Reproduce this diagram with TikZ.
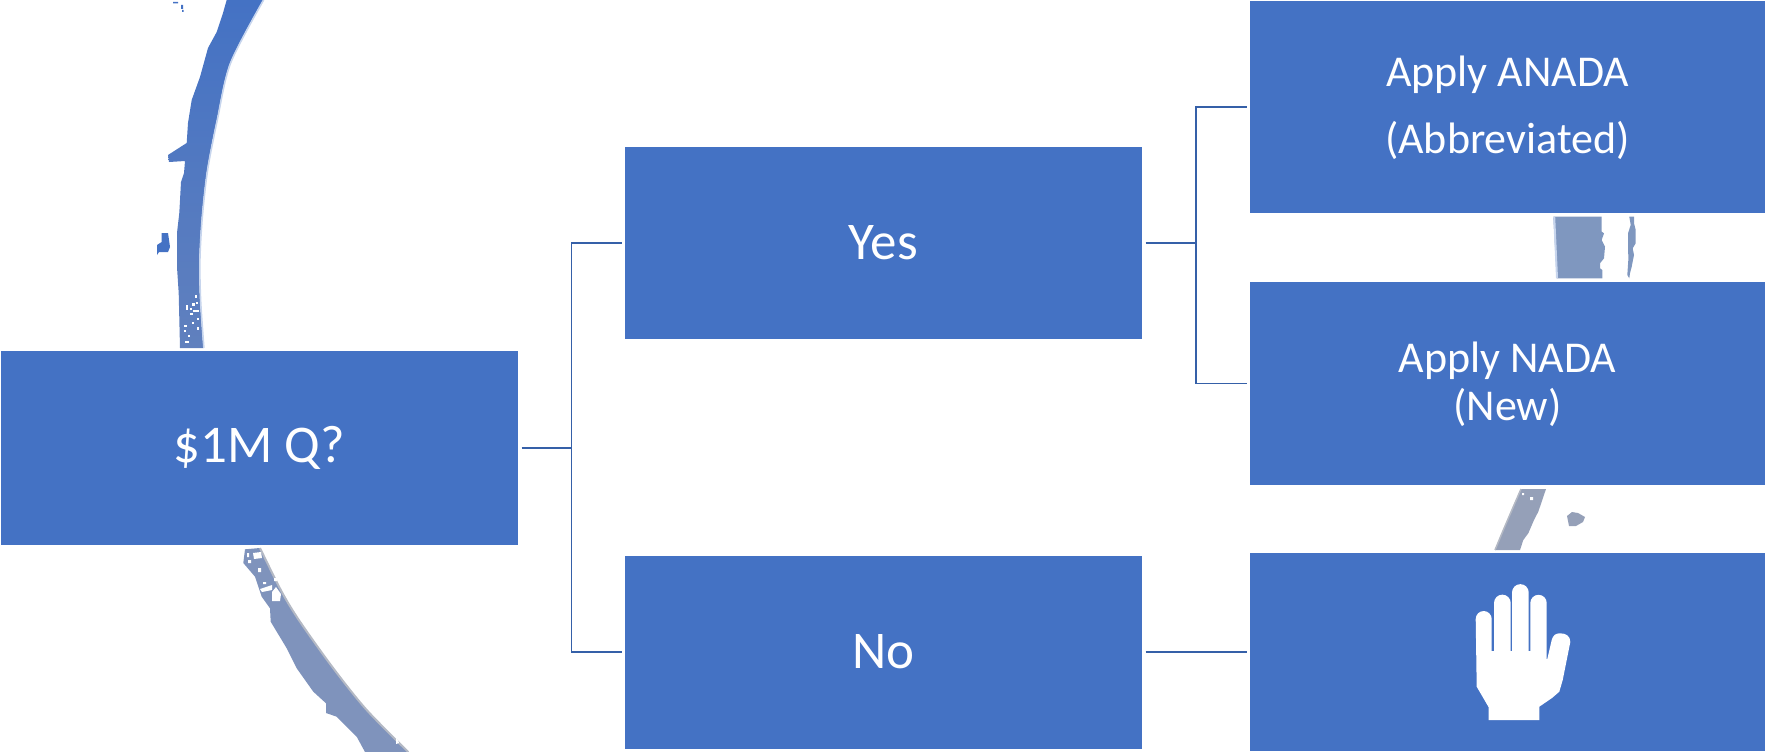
\documentclass[tikz,border=0pt]{standalone}
\usepackage{fontspec}
\setmainfont{Carlito}
\definecolor{boxblue}{HTML}{4472C4}
\definecolor{linkblue}{HTML}{3560A8}
\definecolor{rimgray}{HTML}{B4B9C4}
\definecolor{bandgray}{HTML}{7F93BC}
\definecolor{bandmid}{HTML}{7F97BF}
\definecolor{bandslate}{HTML}{95A0B8}
\definecolor{arcfoot}{HTML}{6080BE}
\tikzset{
  box/.style={rectangle,fill=boxblue,draw=none,inner sep=0pt,outer sep=3.5pt,text=white,align=center},
  link/.style={linkblue,line width=2.2pt},
  thinlink/.style={linkblue,line width=1.7pt},
  bigtext/.style={font=\fontsize{53}{60}\selectfont},
  smalltext/.style={font=\fontsize{44}{48}\selectfont},
  handfill/.style={fill=white,draw=none}
}
\begin{document}
\begin{tikzpicture}[x=1pt,y=-1pt]
\useasboundingbox (0,0) rectangle (1765,752);
% upper arc piece
\shade[top color=boxblue,middle color=boxblue,bottom color=arcfoot]
 plot[smooth] coordinates {(263,0)(230,63)(216.7,120)(207,170)(201.7,217)(199.3,260)(200,300)(203.3,348)}
 --(180,348)--(178.7,293)--(177,267)--(177,233)--(179.3,213)--(181,182)--(184,173)--(185,161)
 --(169,162)--(168,155)--(186.7,143)--(188,123)--(191.7,100)--(200,77)--(208,48)--(216.7,32)--(223,13)--(226.7,0)--cycle;
\draw[boxblue!30!white,line width=1.6pt] plot[smooth] coordinates {(263.6,0)(230.6,63)(217.3,120)(207.6,170)(202.3,217)(199.9,260)(200.6,300)(203.9,348)};
\fill[boxblue] (161.7,233)--(168,233)--(170,247)--(168,252)--(159,252)--(157,255)--(157,245)--(161.7,242)--cycle;
\fill[boxblue] (173,2) rectangle (178,3.5) (181,5) rectangle (183,9) (182,10) rectangle (183.5,12);
\foreach \sx/\sy/\sw/\sh in {195/295/2/3,192/303/3/3,190/308/2/2,186/305/2/5,193/310/6/2,190/313/3/2,197/318/2/2,184/325/3/2,184/330/2/2,188/335/2/2,197/327/2/3,185/341/4/2,192/322/2/2,196/302/2/2}
  \fill[white] (\sx,\sy) rectangle +(\sw,\sh);
% lower arc
\fill[bandgray] plot[smooth] coordinates {(260,548)(281.7,591.7)(300,621.7)(333.3,668.3)(366.7,710)(408.3,752)}--(365,752)
 --(356.7,736.7)--(336.7,716.7)--(326,713)--(326,703.3)--(313.3,691.7)--(296.7,668.3)--(286.7,648.3)
 --(270.7,621.7)--(270,608.3)--(261.7,596.7)--(255,576.7)--(243.3,563)--(245,549.3)--cycle;
\draw[rimgray,line width=2pt] plot[smooth] coordinates {(260,548)(281.7,591.7)(300,621.7)(333.3,668.3)(366.7,710)(408.3,752)};
\fill[white] (253,553)--(261,552)--(262,558)--(254,559)--cycle
 (272,592)--(276,587)--(281,594)--(280,601)--(272,601)--cycle
 (258,568) rectangle (261,572) (247,553) rectangle (249,557) (248,560) rectangle (251,563)
 (260,589)--(272,585)--(272,590)--(262,592)--cycle
 (263,582) rectangle (266,584) (274,578) rectangle (277,581);
\fill[white] (396,738)--(398,740)--(399,743)--(396,744)--cycle;
% fragments between the right-hand boxes
\fill[bandmid] (1553.3,216.7)--(1601.7,216.7)--(1601.7,231.7)--(1604,233.3)--(1601.7,240)--(1605,246.7)--(1604,258.3)--(1600,263.3)--(1600,268.3)--(1602.3,270)--(1602.3,278.3)--(1556.7,278.3)--cycle;
\draw[boxblue!30!white,line width=2pt] (1554.2,217)--(1557,278);
\fill[bandmid] (1629.3,216.7)--(1634,216.7)--(1634,223.3)--(1635.7,230)--(1635.7,243.3)--(1632.7,248.3)--(1634,255)--(1631.7,266.7)--(1630,273.3)--(1629.3,278.3)--(1627.3,275)--(1628.3,260)--(1628,233.3)--(1630.7,225)--cycle;
\fill[bandslate] (1521,489)--(1546,489)--(1541.7,501.7)--(1538.3,511.7)--(1534,520)--(1528.3,533.3)--(1523.3,540)--(1520,550)--(1495,550)--(1503.3,530)--(1513.3,506.7)--cycle;
\draw[rimgray,line width=1.5pt] (1521,489)--(1513.3,506.7)--(1503.3,530)--(1495,550);
\fill[white] (1522,493) rectangle (1524,495) (1530,497) rectangle (1533,500);
\fill[bandslate] (1567,516)--(1572,512)--(1578,513)--(1585,517)--(1583,522)--(1576,526)--(1569,526)--cycle;
% boxes
\node[box,minimum width=517pt,minimum height=194pt,bigtext] (q) at (259.5,448) {\$1M Q?};
\node[box,minimum width=517pt,minimum height=192pt,bigtext] (yes) at (883.5,243) {Yes};
\node[box,minimum width=517pt,minimum height=193pt,bigtext] (no) at (883.5,652) {No};
\node[box,minimum width=515pt,minimum height=212pt,smalltext] (anada) at (1507.5,107) {\rule{0pt}{33pt}Apply ANADA\\[19pt](Abbreviated)};
\node[box,minimum width=515pt,minimum height=203pt,smalltext] (nada) at (1507.5,383.5) {\rule{0pt}{33pt}Apply NADA\\(New)};
\node[box,minimum width=515pt,minimum height=198pt] (stop) at (1507.5,652) {};
% junctions
\coordinate (j1) at (571.5,448);
\coordinate (j2) at (1196,243);
% connectors
\draw[link] (q.east) -- (j1);
\draw[thinlink] (yes.west) -| (j1) |- (no.west);
\draw[link] (yes.east) -- (j2);
\draw[thinlink] (anada.west) -| (j2) |- (nada.west);
\draw[link] (no.east) -- (stop.west);
% hand
\fill[handfill] (1475.7,619) arc[start angle=180,end angle=360,x radius=8,y radius=8]
 --(1491.7,651)--(1494,651)--(1494,603) arc[start angle=180,end angle=360,x radius=8.35,y radius=8.35]
 --(1510.7,651)--(1512,651)--(1512,592.5) arc[start angle=180,end angle=360,x radius=8.35,y radius=8.35]
 --(1528.7,651)--(1530.3,651)--(1530.3,603) arc[start angle=180,end angle=360,x radius=8.2,y radius=8.2]
 --(1546.7,659)--(1547.3,659)--(1551.7,640)..controls (1553,635) and (1556,633.3)..(1560,633.3)
 ..controls (1566,633.3) and (1570.3,636)..(1570.3,642)--(1562.7,680)--(1559.3,691.7)--(1552,698)--(1539.3,706.7)
 --(1539.3,720)--(1488.7,720)--(1488.7,707.3)--(1476.7,686.7)--cycle;
\end{tikzpicture}
\end{document}
